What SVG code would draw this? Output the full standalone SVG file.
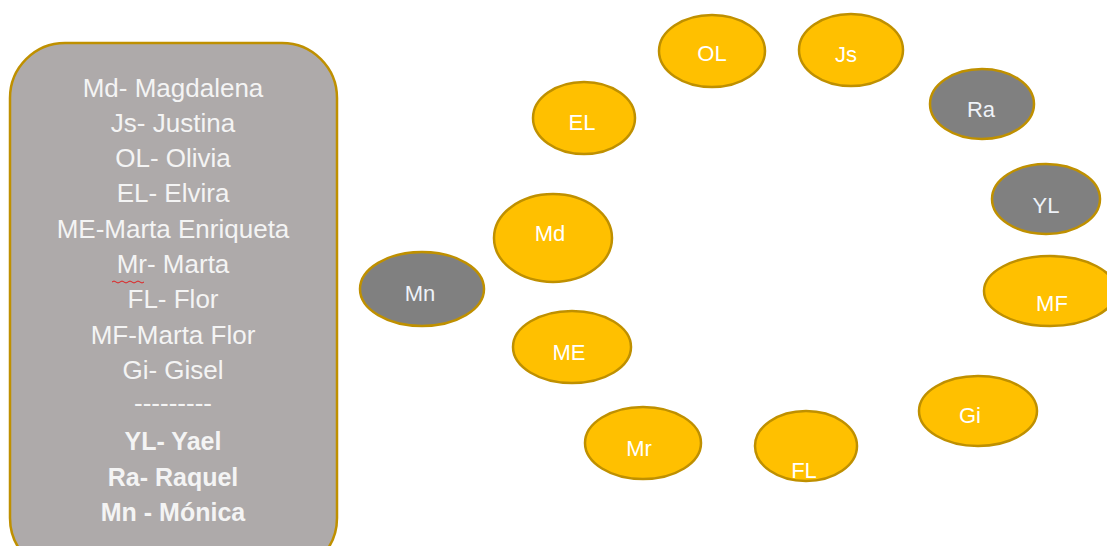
<svg xmlns="http://www.w3.org/2000/svg" width="1107" height="546" viewBox="0 0 1107 546">
<style>
.leg{font-family:"Liberation Sans",Arial,sans-serif;font-size:26px;fill:#F4F4F4;text-anchor:middle}
.b{font-weight:bold;font-size:25px}
.y{fill:#FFC000;stroke:#BF9000;stroke-width:2.5}
.g{fill:#808080;stroke:#BF9000;stroke-width:2.5}
.lbl{font-family:"Liberation Sans",Arial,sans-serif;font-size:22px;fill:#FFFFFF;text-anchor:middle}
.lg{fill:#EEF2F8}
</style>
<rect width="1107" height="546" fill="#FFFFFF"/>
<g id="legend">
<rect x="10" y="43" width="327" height="530" rx="55" ry="55" fill="#AEAAAA" stroke="#BF9000" stroke-width="2.5"/>
<text class="leg" x="173" y="97">Md- Magdalena</text>
<text class="leg" x="173" y="132">Js- Justina</text>
<text class="leg" x="173" y="167">OL- Olivia</text>
<text class="leg" x="173" y="202">EL- Elvira</text>
<text class="leg" x="173" y="238">ME-Marta Enriqueta</text>
<text class="leg" x="173" y="273">Mr- Marta</text>
<path d="M112,282 q2,-2 4,0 t4,0 t4,0 t4,0 t4,0 t4,0 t4,0 t4,0" fill="none" stroke="#E02020" stroke-width="1"/>
<text class="leg" x="173" y="308">FL- Flor</text>
<text class="leg" x="173" y="344">MF-Marta Flor</text>
<text class="leg" x="173" y="379">Gi- Gisel</text>
<text class="leg" x="173" y="412">---------</text>
<text class="leg b" x="173" y="450">YL- Yael</text>
<text class="leg b" x="173" y="486">Ra- Raquel</text>
<text class="leg b" x="173" y="521">Mn - Mónica</text>
</g>
<g id="connectors"></g>
<g id="node-OL"><ellipse class="y" cx="712" cy="51" rx="53" ry="36"/><text class="lbl" x="712" y="61">OL</text></g>
<g id="node-Js"><ellipse class="y" cx="851" cy="50" rx="52" ry="36"/><text class="lbl" x="846" y="62">Js</text></g>
<g id="node-EL"><ellipse class="y" cx="584" cy="118" rx="51" ry="36"/><text class="lbl" x="582" y="130">EL</text></g>
<g id="node-Ra"><ellipse class="g" cx="982" cy="104" rx="52" ry="35"/><text class="lbl lg" x="981" y="117">Ra</text></g>
<g id="node-YL"><ellipse class="g" cx="1046" cy="199" rx="54" ry="35"/><text class="lbl lg" x="1046" y="213">YL</text></g>
<g id="node-Md"><ellipse class="y" cx="553" cy="238" rx="59" ry="44"/><text class="lbl" x="550" y="241">Md</text></g>
<g id="node-Mn"><ellipse class="g" cx="422" cy="289" rx="62" ry="37"/><text class="lbl lg" x="420" y="301">Mn</text></g>
<g id="node-MF"><ellipse class="y" cx="1050" cy="291" rx="66" ry="35"/><text class="lbl" x="1052" y="311">MF</text></g>
<g id="node-ME"><ellipse class="y" cx="572" cy="347" rx="59" ry="36"/><text class="lbl" x="569" y="360">ME</text></g>
<g id="node-Gi"><ellipse class="y" cx="978" cy="411" rx="59" ry="35"/><text class="lbl" x="970" y="423">Gi</text></g>
<g id="node-Mr"><ellipse class="y" cx="643" cy="443" rx="58" ry="36"/><text class="lbl" x="639" y="456">Mr</text></g>
<g id="node-FL"><ellipse class="y" cx="806" cy="446" rx="51" ry="35"/><text class="lbl" x="804" y="478">FL</text></g>
</svg>
